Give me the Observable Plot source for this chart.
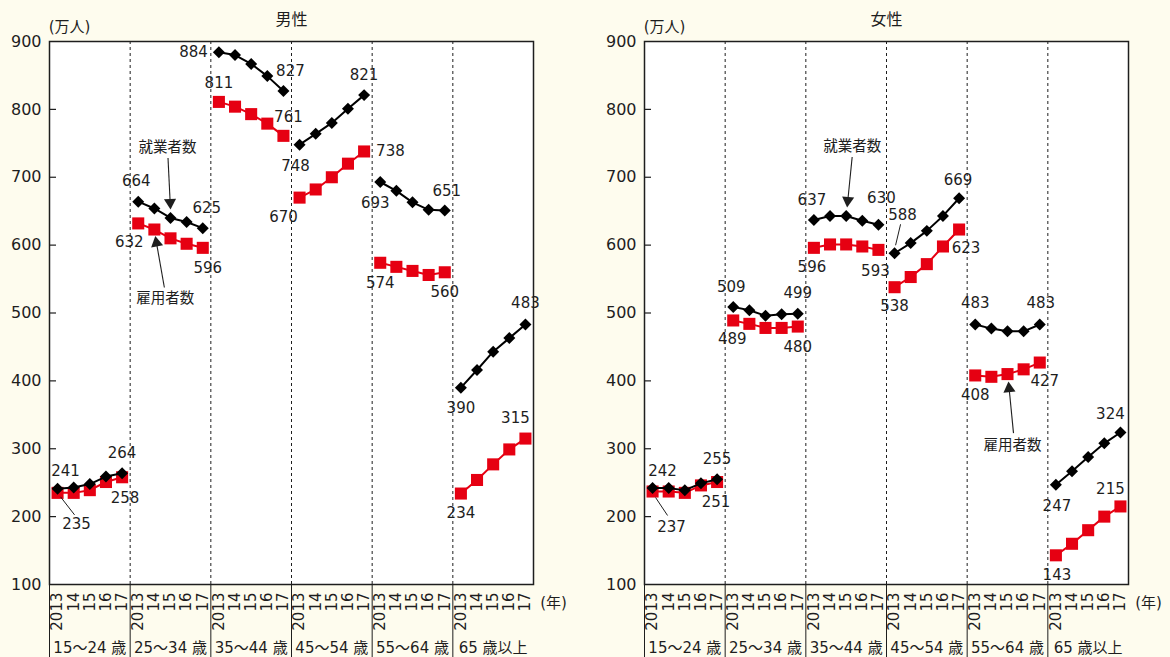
<!DOCTYPE html>
<html><head><meta charset="utf-8">
<script src="https://cdn.jsdelivr.net/npm/d3@7"></script>
<script src="https://cdn.jsdelivr.net/npm/@observablehq/plot@0.6"></script>
<style>
html,body{margin:0;padding:0;background:#FEFCEE;}
#wrap{display:flex;width:1170px;height:657px;}
#wrap > div{width:585px;height:657px;}
svg{display:block}
</style></head><body><div id="wrap"><div id="m"></div><div id="f"></div></div>
<script>
// ---- data ----
const ageGroups = ["15～24 歳","25～34 歳","35～44 歳","45～54 歳","55～64 歳","65 歳以上"];
const yearLabels = ["2013","14","15","16","17"];
const yTicks = [100,200,300,400,500,600,700,800,900];
const seriesNames = ["就業者数","雇用者数"];
const panelTitles = ["男性","女性"];
const unitLabel = "(万人)";
const yearUnit = "(年)";

// 就業者数 (black) / 雇用者数 (red), per age group, 2013..2017
const maleEmployed = [
  [241,243,248,259,264],[664,654,640,634,625],[884,880,867,849,827],
  [748,764,780,801,821],[693,680,663,652,651],[390,416,443,463,483]];
const maleEmployees = [
  [235,235,239,251,258],[632,623,610,602,596],[811,804,793,779,761],
  [670,682,700,720,738],[574,568,562,556,560],[234,254,277,299,315]];
const femaleEmployed = [
  [242,242,239,249,255],[509,504,496,498,499],[637,643,643,636,630],
  [588,603,621,643,669],[483,477,473,473,483],[247,267,288,308,324]];
const femaleEmployees = [
  [237,237,235,246,251],[489,484,478,478,480],[596,601,601,598,593],
  [538,553,572,598,623],[408,406,410,417,427],[143,160,180,200,215]];

// ---- layout (pixel offsets of labels from their points) ----
const FONT = "'DejaVu Sans','Noto Sans CJK JP',sans-serif";
const INK = "#1e1e1e", RED = "#E60012";
const layouts = {
  male: {
    mL: 49, mR: 52,
    black: [[[8,-18],[0,-20]],[[-2,-20],[4,-20]],[[-11,0,"end"],[7,-20]],[[-4,22],[0,-20]],[[-5,21],[2,-19]],[[0,21],[0,-21]]],
    red:   [[[19,31],[3,21]],[[-9,19],[5,20]],[[0,-19],[5,-19]],[[-16,20],[12,0,"start"]],[[0,20],[0,20]],[[0,20],[-10,-20]]],
    leaders: [{s:"red",g:0,j:0,from:[3,4],to:[17,22]}],
    arrows: [
      {s:"black",g:1,j:2,label:[-3,-71],from:[-2.5,-60],to:[0,-9]},
      {s:"red",g:1,j:1,label:[11,69],from:[10,58],to:[1,7]}]
  },
  female: {
    mL: 59, mR: 42,
    black: [[[10,-17],[0,-20]],[[-2,-20],[0,-20]],[[-2,-20],[3,-27]],[[8,-38],[-1,-18]],[[0,-21],[1,-21]],[[1,21],[-10,-18]]],
    red:   [[[19,36],[-1,20]],[[-1,19],[0,21]],[[-2,19],[-3,21]],[[0,19],[7,19]],[[0,20],[5,19]],[[1,20],[-10,-17]]],
    leaders: [{s:"red",g:0,j:0,from:[3,6],to:[15,24]},{s:"black",g:3,j:0,from:[6,-29],to:[1,-8]}],
    arrows: [
      {s:"black",g:2,j:2,label:[6,-70],from:[6,-59],to:[1,-9]},
      {s:"red",g:4,j:2,label:[5,71],from:[6,59],to:[1,8]}]
  }
};

function panel(title, employed, employees, lay) {
  const W = 585, H = 657, mL = lay.mL, mR = lay.mR, mT = 41, mB = 73;
  const pw = W - mL - mR, ph = H - mT - mB;
  const sx = pw / 30, sy = ph / 800;
  const nG = ageGroups.length, nY = yearLabels.length;
  const rows = s => s.flatMap((vals, g) => vals.map((v, j) => ({g, j, x: g * nY + j + 0.5, v})));
  const ser = {black: rows(employed), red: rows(employees)};
  const pt = (s, g, j) => ser[s].find(d => d.g === g && d.j === j);
  const at = (p, o) => ({x: p.x + o[0] / sx, y: p.v - o[1] / sy});

  const labels = [];
  for (const s of ["black", "red"]) {
    lay[s].forEach((pair, g) => {
      [[0, pair[0]], [nY - 1, pair[1]]].forEach(([j, o]) => {
        const p = pt(s, g, j);
        const q = at(p, o);
        labels.push({x: q.x, y: q.y, text: String(p.v), anchor: o[2] || "middle"});
      });
    });
  }
  const leaders = lay.leaders.map(l => {
    const p = pt(l.s, l.g, l.j), a = at(p, l.from), b = at(p, l.to);
    return {x1: a.x, y1: a.y, x2: b.x, y2: b.y};
  });
  const shafts = [], heads = [], notes = [];
  lay.arrows.forEach(a => {
    const p = pt(a.s, a.g, a.j);
    const dx = a.to[0] - a.from[0], dy = a.to[1] - a.from[1];
    const L = Math.hypot(dx, dy), ux = dx / L, uy = dy / L;
    const s0 = at(p, a.from), s1 = at(p, [a.to[0] - ux * 9, a.to[1] - uy * 9]);
    shafts.push({x1: s0.x, y1: s0.y, x2: s1.x, y2: s1.y});
    const c = at(p, [a.to[0] - ux * 6.5, a.to[1] - uy * 6.5]);
    heads.push({x: c.x, y: c.y, rot: Math.atan2(ux, -uy) * 180 / Math.PI});
    const t = at(p, a.label);
    notes.push({x: t.x, y: t.y, text: seriesNames[a.s === "black" ? 0 : 1]});
  });

  const bounds = d3.range(1, nG).map(g => g * nY);
  const allBounds = d3.range(0, nG).map(g => g * nY);
  const slots = ser.black;

  return Plot.plot({
    width: W, height: H, marginLeft: mL, marginRight: mR, marginTop: mT, marginBottom: mB,
    style: {background: "transparent", fontFamily: FONT, fontSize: "16px", color: INK},
    x: {domain: [0, nG * nY], axis: null},
    y: {domain: [100, 900], ticks: yTicks, tickSize: 0, tickPadding: 8, label: null, tickFormat: d => String(d)},
    marks: [
      Plot.frame({fill: "white", stroke: "none"}),
      Plot.ruleX(bounds, {stroke: INK, strokeWidth: 1, strokeDasharray: "3,3"}),
      Plot.ruleX(allBounds, {y1: () => 100, y2: () => 100, insetBottom: -mB, stroke: INK, strokeWidth: 1}),
      Plot.frame({stroke: INK, strokeWidth: 1.5}),
      Plot.ruleY(yTicks.slice(1, -1), {insetRight: pw - 7, stroke: INK, strokeWidth: 1.2}),
      // red series
      Plot.line(ser.red, {x: "x", y: "v", z: "g", stroke: RED, strokeWidth: 2}),
      Plot.dot(ser.red, {x: "x", y: "v", symbol: "square", r: 6.8, fill: RED, stroke: "none"}),
      // black series
      Plot.line(ser.black, {x: "x", y: "v", z: "g", stroke: "#000", strokeWidth: 2}),
      Plot.dot(ser.black, {x: "x", y: "v", symbol: "diamond2", r: 5.4, fill: "#000", stroke: "none"}),
      // value labels
      ...["middle", "start", "end"].map(an => Plot.text(labels.filter(d => d.anchor === an),
        {x: "x", y: "y", text: "text", textAnchor: an, lineAnchor: "middle", fontSize: 15, fill: INK})),
      Plot.link(leaders, {x1: "x1", y1: "y1", x2: "x2", y2: "y2", stroke: INK, strokeWidth: 1}),
      Plot.link(shafts, {x1: "x1", y1: "y1", x2: "x2", y2: "y2", stroke: INK, strokeWidth: 1.1}),
      Plot.dot(heads, {x: "x", y: "y", symbol: "triangle", r: 4.5, rotate: "rot", fill: INK, stroke: "none"}),
      Plot.text(notes, {x: "x", y: "y", text: "text", fontSize: 14.5, lineAnchor: "middle", fill: INK}),
      // x labels
      Plot.text(slots, {x: "x", text: d => yearLabels[d.j], frameAnchor: "bottom", dy: 8, rotate: -90,
        textAnchor: "end", lineAnchor: "middle", fontSize: 15, fill: INK}),
      Plot.text(ageGroups, {x: (d, i) => i * nY + nY / 2, text: d => d, frameAnchor: "bottom", dy: 64,
        textAnchor: "middle", lineAnchor: "middle", fontSize: 15, fill: INK}),
      Plot.text([yearUnit], {frameAnchor: "bottom-right", dx: 20, dy: 19, textAnchor: "middle", lineAnchor: "middle", fontSize: 15, fill: INK}),
      Plot.text([unitLabel], {frameAnchor: "top-left", dx: 20, dy: -14, textAnchor: "middle", lineAnchor: "middle", fontSize: 15, fill: INK}),
      Plot.text([title], {frameAnchor: "top", dy: -22, textAnchor: "middle", lineAnchor: "middle", fontSize: 16, fill: INK})
    ]
  });
}

document.getElementById("m").append(panel(panelTitles[0], maleEmployed, maleEmployees, layouts.male));
document.getElementById("f").append(panel(panelTitles[1], femaleEmployed, femaleEmployees, layouts.female));
</script></body></html>
